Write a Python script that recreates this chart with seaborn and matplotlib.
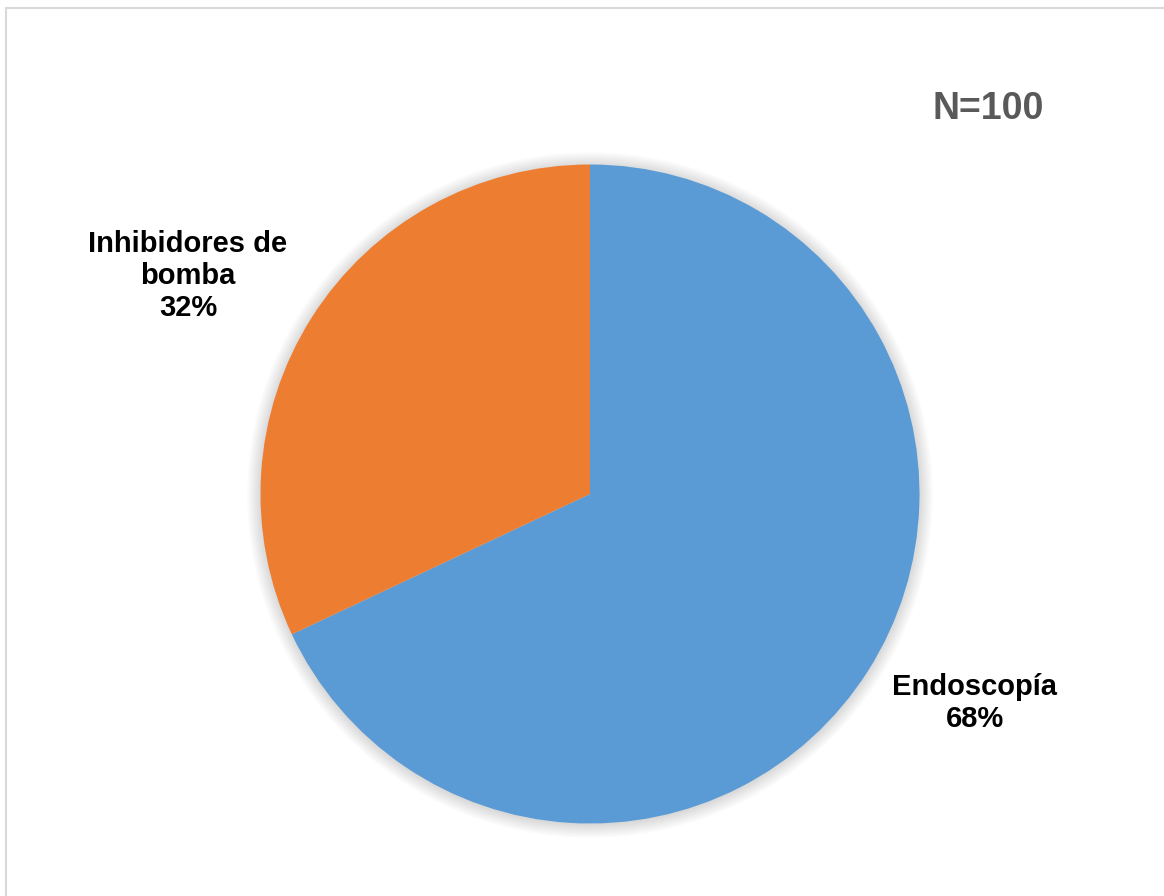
import matplotlib
matplotlib.use("Agg")
import matplotlib.pyplot as plt
import seaborn as sns
from matplotlib.lines import Line2D
from matplotlib.patches import Circle

categories = ["Endoscopía", "Inhibidores de\nbomba"]
values = [68, 32]
colors = ["#5B9BD5", "#ED7D31"]
total_label = "N=100"

sns.set_theme(style="white")
plt.rcParams["font.family"] = ["Liberation Sans", "DejaVu Sans"]

W, H = 1164, 896
fig = plt.figure(figsize=(W / 100, H / 100), dpi=100)
fig.patch.set_facecolor("white")

# frame lines (top and left)
fig.add_artist(Line2D([5.5 / W, 5.5 / W], [0, 1 - 8.5 / H], transform=fig.transFigure,
                      color="#D9D9D9", lw=1.5))
fig.add_artist(Line2D([5.5 / W, 1], [1 - 8.5 / H, 1 - 8.5 / H], transform=fig.transFigure,
                      color="#D9D9D9", lw=1.5))

cx, cy, r = 590, 494, 329.5
ax = fig.add_axes([(cx - r) / W, (H - cy - r) / H, 2 * r / W, 2 * r / H])

# soft shadow
for i in range(10):
    ax.add_patch(Circle((0, -0.003), 1.0 + 0.0045 * i, color="black", alpha=0.015,
                        lw=0, zorder=0, clip_on=False))

wedges, _ = ax.pie(values, colors=colors, startangle=90, counterclock=False,
                   radius=1.0, center=(0, 0), frame=True,
                   wedgeprops=dict(linewidth=0))
for w in wedges:
    w.set_zorder(2)
    w.set_clip_on(False)
ax.set_xlim(-1, 1)
ax.set_ylim(-1, 1)
ax.set_aspect("equal")
ax.axis("off")

pcts = [f"{round(v / sum(values) * 100)}%" for v in values]
label_pos = [(975, 703), (188, 276)]
for cat, pct, (x, y) in zip(categories, pcts, label_pos):
    fig.text(x / W, 1 - y / H, f"{cat}\n{pct}", ha="center", va="center",
             fontsize=21, fontweight="bold", color="black", linespacing=1.17)

fig.text(988 / W, 1 - 109 / H, total_label, ha="center", va="center",
         fontsize=27, fontweight="bold", color="#595959")

fig.savefig("out.png", dpi=100, facecolor="white")
